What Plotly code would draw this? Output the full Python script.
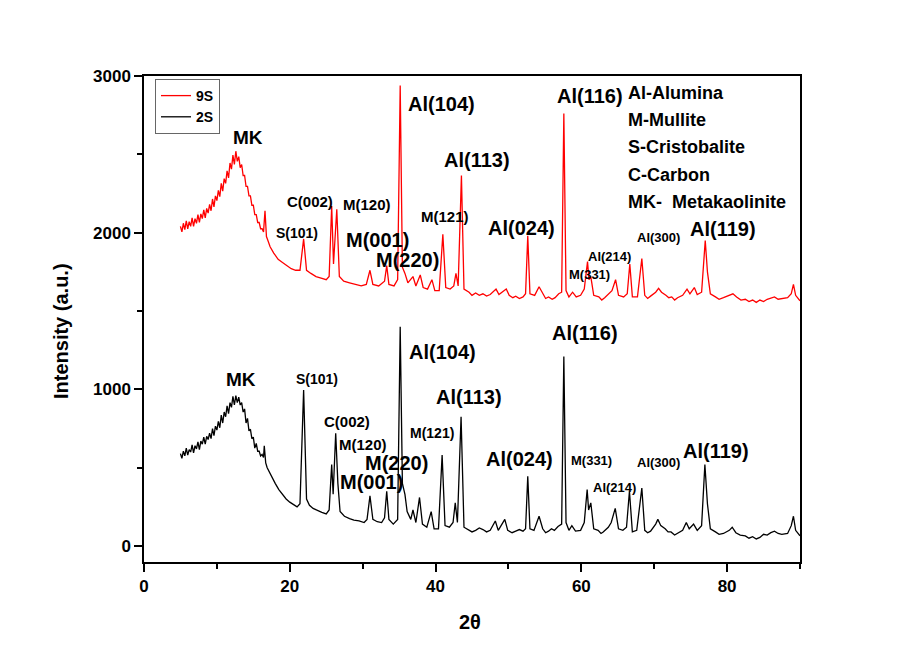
import plotly.graph_objects as go

# ---------------- data ----------------
x_2s = [5.0, 5.2, 5.4, 5.6, 5.8, 6.0, 6.2, 6.4, 6.6, 6.8, 7.0, 7.2, 7.4, 7.6, 7.8, 8.0, 8.2, 8.4, 8.6, 8.8,
        9.0, 9.2, 9.4, 9.6, 9.8, 10.0, 10.2, 10.4, 10.6, 10.8, 11.0, 11.2, 11.4, 11.6, 11.8, 12.0, 12.2, 12.4,
        12.6, 12.8, 13.0, 13.2, 13.4, 13.6, 13.8, 14.0, 14.2, 14.4, 14.6, 14.8, 15.0, 15.2, 15.4, 15.6, 15.8,
        16.0, 16.2, 16.4, 16.5, 16.7, 16.9, 17.2, 17.6, 18.0, 18.5, 19.0, 19.5,
        20.0, 20.5, 21.0, 21.4, 21.9, 22.3, 22.7, 23.2, 23.8, 24.4, 25.0, 25.4, 25.75, 25.95, 26.3, 26.6, 26.9,
        27.5, 28.2, 28.8, 29.5, 30.2, 30.6, 31.0, 31.4, 32.0, 32.6, 33.0, 33.3, 33.6, 34.2, 34.8, 35.15, 35.45,
        35.8, 36.1, 36.6, 36.9, 37.3, 37.8, 38.2, 38.8, 39.4, 39.8, 40.4, 40.9, 41.3, 41.9, 42.4, 42.7, 43.0,
        43.5, 43.9, 44.5, 45.0, 45.5, 46.0, 46.5, 47.0, 47.5, 48.2, 48.6, 49.5, 49.9, 50.5, 51.0, 51.5, 52.0,
        52.35, 52.65, 52.95, 53.5, 54.2,
        54.7, 55.1, 55.5, 55.9, 56.3, 56.8, 57.3, 57.6, 57.9, 58.3, 58.7, 59.2, 59.9, 60.4, 60.8, 61.0, 61.3,
        61.7, 62.3, 62.7, 63.0, 63.7, 64.1, 64.65, 65.1, 65.7, 66.2, 66.6, 67.0, 67.6, 68.3, 68.7, 69.1, 69.5,
        70.2, 70.5, 70.9, 71.5, 71.9, 72.3, 72.8, 73.2, 73.9, 74.4, 74.8, 75.4, 75.9, 76.5, 76.95, 77.3, 77.7,
        78.4, 78.9, 79.5, 80.3, 80.7, 81.2, 81.8, 82.5, 83.0, 83.5, 84.0, 84.5, 85.0, 85.5, 86.0, 86.5, 87.0,
        87.5, 88.3, 88.8, 89.1, 89.4, 90.0]
y_2s = [590, 560, 605, 575, 625, 580, 615, 600, 645, 595, 640, 620, 665, 615, 670, 650, 695, 650, 700, 680,
        720, 685, 750, 705, 765, 740, 795, 755, 835, 785, 855, 825, 895, 845, 915, 885, 955, 900,
        960, 915, 950, 900, 915, 855, 875, 785, 815, 735, 745, 685, 695, 625, 655, 605, 605,
        575, 585, 565, 640, 530, 500, 470, 430, 400, 360, 330, 300,
        280, 265, 250, 270, 995, 300, 260, 240, 225, 215, 205, 230, 520, 330, 720, 400, 220,
        190, 175, 165, 160, 150, 170, 320, 170, 155, 150, 180, 350, 170, 140, 170, 1400, 400,
        330, 220, 170, 230, 150, 310, 140, 120, 220, 110, 110, 580, 130, 120, 150, 275, 150,
        825, 120, 105, 90, 100, 115, 105, 90, 100, 160, 100, 170, 100, 85, 95, 105, 95,
        110, 445, 110, 100, 190,
        110, 85, 95, 110, 100, 125, 140, 1210, 150, 100, 130, 95, 100, 150, 360, 230, 275,
        110, 100, 80, 90, 120, 150, 240, 110, 100, 120, 350, 90, 100, 370, 100, 85, 95,
        140, 170, 130, 110, 90, 90, 70, 80, 100, 150, 110, 140, 100, 130, 520, 270, 110,
        90, 75, 80, 100, 120, 85, 70, 65, 50, 60, 45, 55, 75, 70, 85, 95, 80,
        75, 80, 130, 190, 100, 65]

x_9s = [5.0, 5.2, 5.4, 5.6, 5.8, 6.0, 6.2, 6.4, 6.6, 6.8, 7.0, 7.2, 7.4, 7.6, 7.8, 8.0, 8.2, 8.4, 8.6, 8.8,
        9.0, 9.2, 9.4, 9.6, 9.8, 10.0, 10.2, 10.4, 10.6, 10.8, 11.0, 11.2, 11.4, 11.6, 11.8, 12.0, 12.2, 12.4,
        12.6, 12.8, 13.0, 13.2, 13.4, 13.6, 13.8, 14.0, 14.2, 14.4, 14.6, 14.8, 15.0, 15.2, 15.4, 15.6, 15.8,
        16.0, 16.2, 16.4, 16.6, 16.8, 17.0, 17.3, 17.8, 18.4, 19.0, 19.6,
        20.2, 20.8, 21.4, 21.9, 22.3, 22.9, 23.6, 24.3, 25.0, 25.4, 25.75, 26.0, 26.45, 26.8, 27.4, 28.2, 29.0,
        29.8, 30.5, 31.0, 31.4, 32.2, 33.0, 33.3, 33.6, 34.3, 34.8, 35.15, 35.45, 35.8, 36.2, 36.9, 37.3, 37.9,
        38.3, 38.9, 39.5, 39.9, 40.5, 41.0, 41.4, 42.0, 42.5, 42.8, 43.1, 43.55, 43.9, 44.6, 45.0, 45.5, 46.0,
        46.5, 47.0, 47.5, 48.3, 48.7, 49.7, 50.1, 50.6, 51.0, 51.5, 52.0, 52.35, 52.65, 52.95, 53.6, 54.2, 54.7,
        55.1, 55.5, 56.0, 56.4, 56.9, 57.3, 57.6,
        57.9, 58.3, 58.8, 59.3, 59.9, 60.4, 60.85, 61.05, 61.3, 61.7, 62.4, 62.8, 63.2, 63.8, 64.2, 64.7, 65.1,
        65.8, 66.3, 66.65, 67.0, 67.7, 68.3, 68.7, 69.1, 69.5, 70.2, 70.6, 71.0, 71.6, 72.0, 72.4, 72.8, 73.2,
        73.9, 74.5, 74.9, 75.5, 75.9, 76.5, 77.0, 77.3, 77.7, 78.4, 78.9, 79.5, 80.4, 80.8, 81.3, 81.9, 82.5,
        83.0, 83.5, 84.0, 84.5, 85.0, 85.5, 86.0, 86.5, 87.0, 87.5, 88.3, 88.8, 89.1, 89.4, 90.0]
y_9s = [2040, 2005, 2060, 2020, 2075, 2025, 2070, 2040, 2095, 2040, 2090, 2060, 2115, 2065, 2120, 2090, 2145,
        2095, 2155, 2125, 2180, 2140, 2215, 2165, 2235, 2205, 2270, 2230, 2315, 2265, 2345, 2315, 2395, 2350,
        2445, 2405, 2495, 2435, 2520, 2455, 2485, 2415, 2435, 2365, 2365, 2295, 2295, 2235, 2235, 2175, 2175,
        2115, 2115, 2065, 2065, 2025, 2025, 2005, 2140, 1975, 1950, 1910, 1870, 1830, 1810, 1790,
        1770, 1760, 1760, 1960, 1760, 1740, 1720, 1710, 1700, 1720, 2170, 1800, 2150, 1720, 1690, 1680, 1670,
        1660, 1670, 1760, 1670, 1660, 1690, 1790, 1670, 1660, 1700, 2940, 1780, 1740, 1680, 1720, 1660, 1730,
        1650, 1640, 1700, 1630, 1630, 1990, 1650, 1640, 1660, 1740, 1660, 2365, 1640, 1620, 1600, 1615, 1600,
        1610, 1595, 1605, 1640, 1605, 1640, 1600, 1585, 1595, 1580, 1590, 1610, 1980, 1610, 1600, 1655, 1610,
        1580, 1590, 1575, 1585, 1610, 1620, 2760,
        1630, 1590, 1620, 1590, 1600, 1640, 1815, 1700, 1720, 1600, 1590, 1570, 1585, 1610, 1630, 1700, 1600,
        1590, 1610, 1800, 1590, 1590, 1835, 1600, 1580, 1595, 1620, 1645, 1620, 1600, 1585, 1590, 1570, 1585,
        1600, 1640, 1610, 1650, 1605, 1620, 1950, 1750, 1610, 1590, 1575, 1585, 1600, 1610, 1590, 1570, 1575,
        1560, 1570, 1555, 1570, 1560, 1575, 1585, 1590, 1575, 1580, 1585, 1610, 1670, 1600, 1565]

series_names = ["9S", "2S"]
x_ticks = [0, 20, 40, 60, 80]
y_ticks = [0, 1000, 2000, 3000]

# peak labels: (text, pixel-x, pixel-y, font size)
labels_9s = [("MK", 247, 136, 19), ("S(101)", 296, 232, 14), ("C(002)", 309, 200, 15), ("M(120)", 366, 204, 15),
             ("M(001)", 376, 239, 20), ("M(220)", 406, 259, 20), ("Al(104)", 440, 103, 20), ("M(121)", 444, 215, 15),
             ("Al(113)", 476, 159, 20), ("Al(024)", 520, 227, 20), ("Al(116)", 589, 95, 20), ("M(331)", 588, 273, 13),
             ("Al(214)", 608, 255, 13), ("Al(300)", 657, 236, 13), ("Al(119)", 722, 228, 20)]
labels_2s = [("MK", 240, 378, 19), ("S(101)", 316, 378, 14), ("C(002)", 346, 420, 15), ("M(120)", 362, 443, 15),
             ("M(220)", 395, 462, 20), ("M(001)", 370, 481, 20), ("Al(104)", 441, 351, 20), ("M(121)", 431, 432, 14),
             ("Al(113)", 468, 396, 20), ("Al(116)", 584, 332, 20), ("Al(024)", 519, 458, 20), ("M(331)", 590, 459, 13),
             ("Al(214)", 613, 486, 13), ("Al(300)", 657, 461, 13), ("Al(119)", 715, 450, 20)]
key_lines = ["Al-Alumina", "M-Mullite", "S-Cristobalite", "C-Carbon", "MK-  Metakaolinite"]
key_y = [92, 119, 146, 174, 201]

# ---------------- figure ----------------
W, H = 913, 648
OFF = 7  # page offset of the rendered figure (body margin)
L, R, T, B = 143, 799, 75, 561
FONT = "Arial, Liberation Sans, sans-serif"

def px2paper(px, py):
    return (px - L) / (R - L), (B - py) / (B - T)

fig = go.Figure()
fig.add_trace(go.Scatter(x=x_9s, y=y_9s, mode="lines", name=series_names[0],
                         line=dict(color="#ff0000", width=1.3)))
fig.add_trace(go.Scatter(x=x_2s, y=y_2s, mode="lines", name=series_names[1],
                         line=dict(color="#000000", width=1.3)))

ann = []
for lst in (labels_9s, labels_2s):
    for text, px, py, sz in lst:
        ax, ay = px2paper(px, py)
        ann.append(dict(text=text, x=ax, y=ay, xref="paper", yref="paper", showarrow=False,
                        xanchor="center", yanchor="middle",
                        font=dict(family=FONT, size=sz, color="black", weight="bold")))
for text, py in zip(key_lines, key_y):
    ax, ay = px2paper(625, py)
    ann.append(dict(text=text, x=ax, y=ay, xref="paper", yref="paper", showarrow=False,
                    xanchor="left", yanchor="middle",
                    font=dict(family=FONT, size=18, color="black", weight="bold")))
ax, ay = px2paper(60, 330)
ann.append(dict(text="Intensity (a.u.)", x=ax, y=ay, xref="paper", yref="paper", showarrow=False,
                textangle=-90, xanchor="center", yanchor="middle",
                font=dict(family=FONT, size=20, color="black", weight="bold")))
ax, ay = px2paper(469, 621)
ann.append(dict(text="2θ", x=ax, y=ay, xref="paper", yref="paper", showarrow=False,
                xanchor="center", yanchor="middle",
                font=dict(family=FONT, size=20, color="black", weight="bold")))

axis_common = dict(showline=True, linecolor="black", linewidth=1.5, mirror=True, showgrid=False,
                   zeroline=False, ticks="outside", ticklen=8, tickwidth=1.5, tickcolor="black",
                   tickfont=dict(family=FONT, size=17, color="black", weight="bold"))

fig.update_layout(
    width=W, height=H,
    margin=dict(l=L - OFF, r=W - R + OFF, t=T - OFF, b=H - B + OFF, pad=0),
    paper_bgcolor="white", plot_bgcolor="white",
    xaxis=dict(range=[0, 90], tickvals=x_ticks,
               minor=dict(tickvals=[10, 30, 50, 70, 90], ticks="outside", ticklen=5, tickwidth=1.5,
                          tickcolor="black"),
               **axis_common),
    yaxis=dict(range=[-102, 3000], tickvals=y_ticks,
               minor=dict(tickvals=[500, 1500, 2500], ticks="outside", ticklen=5, tickwidth=1.5,
                          tickcolor="black"),
               **axis_common),
    legend=dict(x=(154 - L) / (R - L), y=(B - 78) / (B - T), xanchor="left", yanchor="top",
                bordercolor="#666666", borderwidth=1, bgcolor="white",
                font=dict(family=FONT, size=14, color="black", weight="bold"),
                tracegroupgap=0, itemwidth=30),
    annotations=ann,
    showlegend=True,
)

fig.write_html("out.html")
